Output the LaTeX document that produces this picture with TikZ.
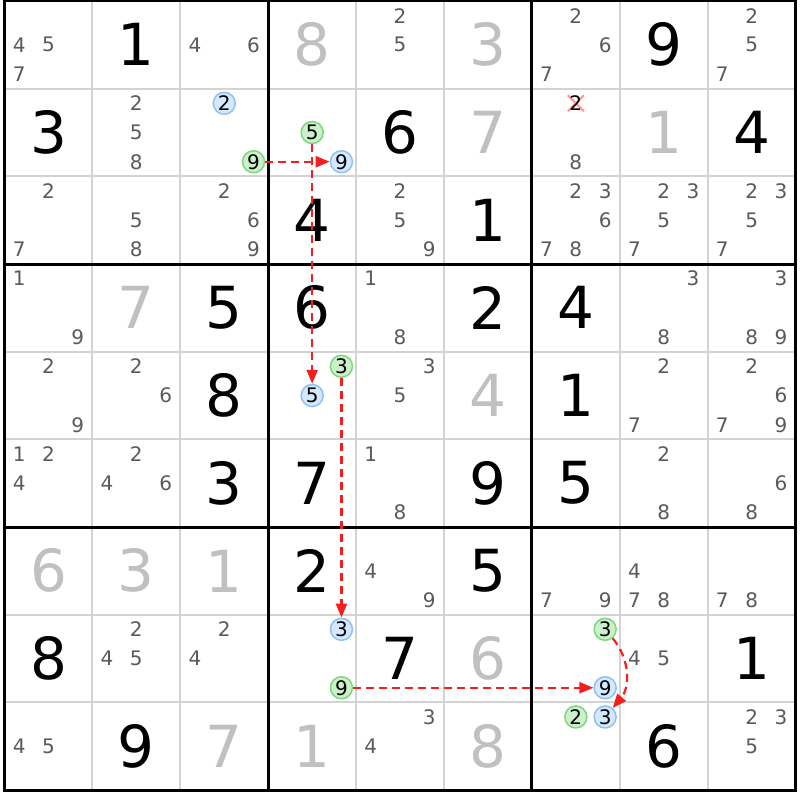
\documentclass[tikz,border=0pt]{standalone}
\usepackage{fontspec}
\setmainfont{DejaVu Sans}
\usetikzlibrary{arrows.meta}
\definecolor{candgray}{RGB}{90,90,90}
\definecolor{solvgray}{RGB}{192,192,192}
\definecolor{gridgray}{RGB}{211,211,211}
\definecolor{linkred}{RGB}{245,30,30}
\definecolor{gfill}{RGB}{204,240,204}
\definecolor{gdraw}{RGB}{125,215,125}
\definecolor{bfill}{RGB}{212,232,255}
\definecolor{bdraw}{RGB}{145,192,245}
\definecolor{xpink}{RGB}{255,150,150}
\tikzset{
  givendigit/.style={font=\fontsize{58}{58}\selectfont, text=black, inner sep=0pt},
  solveddigit/.style={givendigit, text=solvgray},
  canddigit/.style={font=\fontsize{20}{20}\selectfont, text=candgray, inner sep=0pt},
  greenmark/.style={circle, draw=gdraw, fill=gfill, line width=1.5pt, minimum size=22pt, inner sep=0pt, text=black, font=\fontsize{20}{20}\selectfont},
  bluemark/.style={greenmark, draw=bdraw, fill=bfill},
  thingrid/.style={draw=gridgray, line width=2pt},
  thickgrid/.style={draw=black, line width=3pt},
  link/.style={draw=linkred, line width=2.2pt, dash pattern=on 8pt off 5pt, -{Triangle[length=14pt,width=11pt]}},
  crossmark/.style={draw=xpink, line width=2.2pt},
}
\begin{document}
\begin{tikzpicture}[x=1pt,y=-1pt]
\useasboundingbox (0,0) rectangle (800,800);
\fill[white] (0,0) rectangle (800,800);
% grid
\foreach \i in {1,2,4,5,7,8} {
  \draw[thingrid] ({4.5+\i*87.9},1) -- ({4.5+\i*87.9},790);
  \draw[thingrid] (4.5,{1+\i*87.67}) -- (795.6,{1+\i*87.67});
}
\foreach \i in {0,3,6,9} {
  \draw[thickgrid] ({4.5+\i*87.9},-0.5) -- ({4.5+\i*87.9},791.5);
  \draw[thickgrid] (3,{1+\i*87.67}) -- (797.1,{1+\i*87.67});
}
% given digits
\foreach \r/\c/\d in {1/2/1, 1/8/9, 2/1/3, 2/5/6, 2/9/4, 3/4/4, 3/6/1, 4/3/5, 4/4/6, 4/6/2, 4/7/4, 5/3/8, 5/7/1, 6/3/3, 6/4/7, 6/6/9, 6/7/5, 7/4/2, 7/6/5, 8/1/8, 8/5/7, 8/9/1, 9/2/9, 9/8/6}
  \node[givendigit] (g\r\c) at ({4.5+(\c-0.5)*87.9},{1+(\r-0.5)*87.67}) {\d};
% solved digits
\foreach \r/\c/\d in {1/4/8, 1/6/3, 2/6/7, 2/8/1, 4/2/7, 5/6/4, 7/1/6, 7/2/3, 7/3/1, 8/6/6, 9/3/7, 9/4/1, 9/6/8}
  \node[solveddigit] (s\r\c) at ({4.5+(\c-0.5)*87.9},{1+(\r-0.5)*87.67}) {\d};
% candidates
\foreach \r/\c/\ds in {1/1/{4,5,7}, 1/3/{4,6}, 1/5/{2,5}, 1/7/{2,6,7}, 1/9/{2,5,7},
  2/2/{2,5,8}, 2/7/{8},
  3/1/{2,7}, 3/2/{5,8}, 3/3/{2,6,9}, 3/5/{2,5,9}, 3/7/{2,3,6,7,8}, 3/8/{2,3,5,7}, 3/9/{2,3,5,7},
  4/1/{1,9}, 4/5/{1,8}, 4/8/{3,8}, 4/9/{3,8,9},
  5/1/{2,9}, 5/2/{2,6}, 5/5/{3,5}, 5/8/{2,7}, 5/9/{2,6,7,9},
  6/1/{1,2,4}, 6/2/{2,4,6}, 6/5/{1,8}, 6/8/{2,8}, 6/9/{6,8},
  7/5/{4,9}, 7/7/{7,9}, 7/8/{4,7,8}, 7/9/{7,8},
  8/2/{2,4,5}, 8/3/{2,4}, 8/8/{4,5},
  9/1/{4,5}, 9/5/{3,4}, 9/9/{2,3,5}} {
  \foreach \d in \ds {
    \node[canddigit] (k\r\c\d) at ({4.5+(\c-1)*87.9+(2*mod(\d-1,3)+1)*87.9/6},{1+(\r-1)*87.67+(2*floor((\d-1)/3)+1)*87.67/6}) {\d};
  }
}
% eliminated candidate 2 in r2c7
\coordinate (x272) at ({4.5+6*87.9+3*87.9/6},{1+87.67+87.67/6});
\draw[crossmark] ([shift={(-8,-8)}]x272) -- ([shift={(8,8)}]x272);
\draw[crossmark] ([shift={(-8,8)}]x272) -- ([shift={(8,-8)}]x272);
\node[canddigit, text=black] (k272) at (x272) {2};
% marked candidates
\foreach \r/\c/\d in {2/3/9, 2/4/5, 5/4/3, 8/4/9, 8/7/3, 9/7/2}
  \node[greenmark] (k\r\c\d) at ({4.5+(\c-1)*87.9+(2*mod(\d-1,3)+1)*87.9/6},{1+(\r-1)*87.67+(2*floor((\d-1)/3)+1)*87.67/6}) {\d};
\foreach \r/\c/\d in {2/3/2, 2/4/9, 5/4/5, 8/4/3, 8/7/9, 9/7/3}
  \node[bluemark] (k\r\c\d) at ({4.5+(\c-1)*87.9+(2*mod(\d-1,3)+1)*87.9/6},{1+(\r-1)*87.67+(2*floor((\d-1)/3)+1)*87.67/6}) {\d};
% links
\draw[link] (k239) -- (k249);
\draw[link] (k245) -- (k545);
\draw[link] (k543) -- (k843);
\draw[link] (k849) -- (k879);
\draw[link] (k873) to[out=-50, in=50] (k973);
\end{tikzpicture}
\end{document}
